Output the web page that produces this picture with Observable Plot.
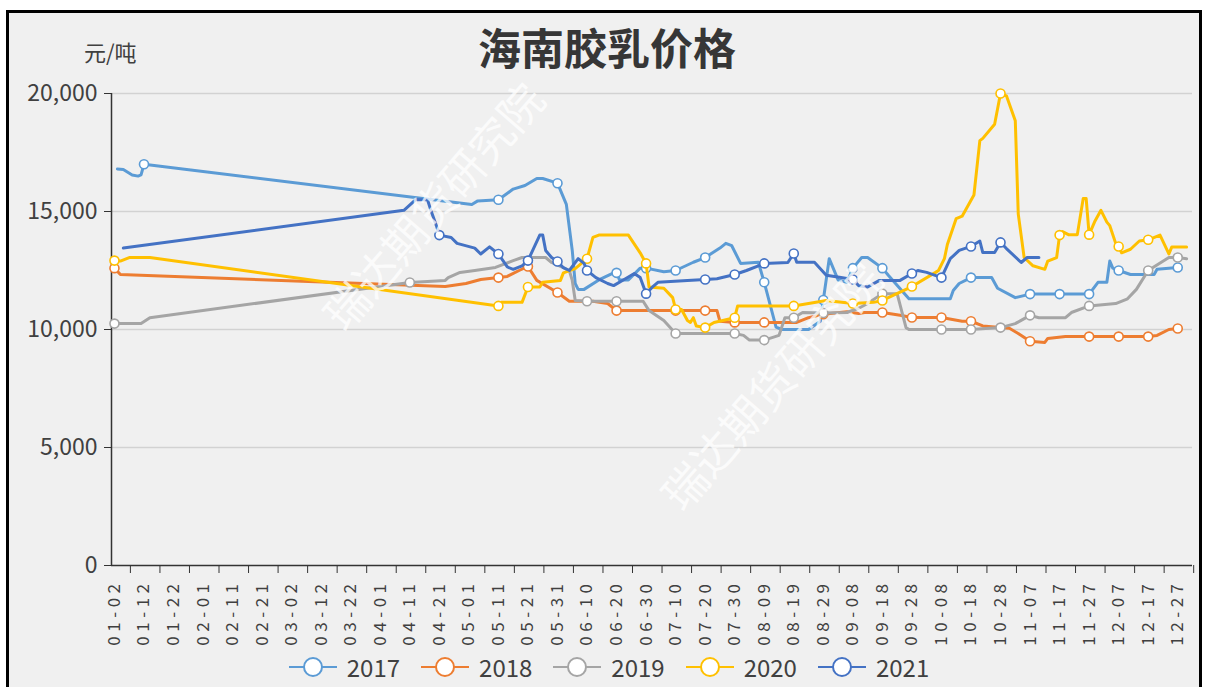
<!DOCTYPE html>
<html><head><meta charset="utf-8">
<script src="https://cdn.jsdelivr.net/npm/d3@7"></script>
<script src="https://cdn.jsdelivr.net/npm/@observablehq/plot@0.6"></script>
<style>
body{margin:0;background:#fff;font-family:"Noto Sans CJK SC","Noto Sans",sans-serif;width:1205px;height:687px;overflow:hidden;position:relative}
#frame{position:absolute;left:6px;top:10px;width:1190px;height:690px;border:3px solid #000;background:#f0f0f0}
#title{position:absolute;left:0;top:21px;width:1214px;text-align:center;font-size:43px;font-weight:bold;color:#363636;line-height:1.2}
#unit{position:absolute;left:84px;top:35px;font-size:22px;color:#404040}
#chart{position:absolute;left:0;top:0}
#legend{position:absolute;top:650px;left:0;width:1218px;display:flex;justify-content:center;gap:21px;font-size:24px;color:#404040;line-height:34px}
#legend .item{display:flex;align-items:center}
#legend svg{margin-right:10px}
.wm{position:absolute;color:rgba(255,255,255,0.75);font-size:44px;transform:rotate(-49deg);white-space:nowrap;width:308px;height:50px;line-height:50px;text-align:center}
</style></head>
<body>
<div id="frame"></div>
<div id="chart"></div>
<div id="title">海南胶乳价格</div>
<div id="unit">元/吨</div>
<div id="legend"></div>
<div class="wm" style="left:278px;top:180px">瑞达期货研究院</div>
<div class="wm" style="left:616px;top:360px">瑞达期货研究院</div>
<script>
const titleText = "海南胶乳价格";
const unitText = "元/吨";
const years = ["2017", "2018", "2019", "2020", "2021"];
const colors = ["#5b9bd5", "#ed7d31", "#a5a5a5", "#ffc000", "#4472c4"];
const yTicks = [0, 5000, 10000, 15000, 20000];
const xLabels = ["01-02","01-12","01-22","02-01","02-11","02-21","03-02","03-12","03-22","04-01","04-11","04-21","05-01","05-11","05-21","05-31","06-10","06-20","06-30","07-10","07-20","07-30","08-09","08-19","08-29","09-08","09-18","09-28","10-08","10-18","10-28","11-07","11-17","11-27","12-07","12-17","12-27"];

const s2017 = [["01-03",16800],["01-05",16780],["01-08",16550],["01-10",16500],["01-11",16550],["01-12",17000],
["05-02",15300],["05-04",15450],["05-11",15500],["05-16",15950],["05-20",16100],["05-24",16400],["05-26",16400],["05-31",16200],["06-03",15300],["06-05",13350],["06-06",11950],["06-07",11700],["06-09",11700],["06-14",12100],["06-19",12400],["06-20",12400],["06-21",12100],["06-24",12100],["06-28",12600],["06-30",12600],["07-06",12450],["07-10",12500],["07-16",12850],["07-20",13050],["07-25",13450],["07-27",13650],["07-29",13550],["08-01",12800],["08-07",12850],["08-09",12000],["08-13",10100],["08-15",10000],["08-24",10000],["08-28",10350],["08-29",11250],["08-31",13000],["09-03",12100],["09-06",12000],["09-08",12600],["09-11",13050],["09-13",13050],["09-18",12600],["09-20",12300],["09-27",11300],["10-11",11300],["10-12",11650],["10-14",11950],["10-18",12200],["10-25",12200],["10-27",11750],["11-02",11350],["11-07",11500],["11-17",11500],["11-27",11500],["11-30",12000],["12-03",12000],["12-04",12900],["12-05",12600],["12-07",12500],["12-11",12330],["12-19",12330],["12-20",12550],["12-27",12630]];

const s2018 = [["01-02",12600],["01-04",12330],["04-23",11820],["04-30",11950],["05-05",12120],["05-11",12200],["05-14",12250],["05-18",12500],["05-21",12670],["05-24",12080],["05-31",11570],["06-04",11200],["06-12",11200],["06-17",11100],["06-20",10800],["07-10",10800],["07-20",10800],["07-24",10800],["07-25",10350],["07-30",10300],["08-09",10300],["08-20",10300],["08-24",10500],["08-29",10650],["09-06",10750],["09-10",10680],["09-12",10720],["09-18",10720],["09-24",10600],["09-28",10510],["10-08",10510],["10-15",10350],["10-18",10350],["10-22",10150],["10-31",10050],["11-03",9830],["11-07",9500],["11-12",9450],["11-13",9620],["11-19",9700],["11-27",9700],["12-07",9700],["12-17",9700],["12-20",9750],["12-24",10000],["12-27",10040]];

const s2019 = [["01-02",10250],["01-11",10250],["01-14",10500],["04-11",11990],["04-23",12080],["04-24",12200],["04-28",12420],["05-03",12500],["05-10",12630],["05-16",12920],["05-19",13050],["05-27",13050],["05-29",12840],["06-04",12500],["06-05",12080],["06-06",11230],["06-10",11200],["06-20",11200],["06-29",11200],["07-01",10800],["07-06",10380],["07-10",9830],["07-30",9830],["08-02",9750],["08-04",9550],["08-09",9550],["08-14",9750],["08-16",10500],["08-19",10500],["08-22",10720],["08-29",10700],["09-06",10720],["09-10",10900],["09-13",11100],["09-18",11520],["09-23",11520],["09-26",10080],["09-27",10000],["10-08",10000],["10-18",10000],["10-28",10080],["11-02",10250],["11-07",10600],["11-10",10500],["11-19",10500],["11-21",10720],["11-27",11000],["12-06",11100],["12-10",11300],["12-13",11700],["12-17",12500],["12-24",13050],["12-27",13050],["12-30",13000]];

const s2020 = [["01-02",12920],["01-04",12900],["01-07",13050],["01-14",13050],["05-11",11000],["05-12",11150],["05-19",11150],["05-21",11800],["05-25",11800],["05-26",12000],["06-01",12080],["06-02",12400],["06-06",12580],["06-10",13000],["06-12",13900],["06-14",14000],["06-24",14000],["06-28",13250],["06-30",12800],["07-01",11800],["07-06",11750],["07-09",11350],["07-10",10850],["07-12",10850],["07-14",10380],["07-15",10300],["07-16",10500],["07-17",10150],["07-20",10080],["07-23",10300],["07-30",10500],["07-31",11000],["08-19",11000],["08-24",11100],["08-30",11230],["09-08",11100],["09-15",11150],["09-18",11230],["09-20",11350],["09-28",11820],["10-06",12420],["10-07",12500],["10-09",13000],["10-10",13600],["10-13",14700],["10-15",14800],["10-19",15700],["10-21",18000],["10-22",18100],["10-26",18700],["10-28",20000],["10-30",19900],["11-02",18850],["11-03",14900],["11-05",13050],["11-08",12700],["11-12",12550],["11-13",12900],["11-16",13050],["11-17",14000],["11-18",14150],["11-20",14020],["11-23",14020],["11-25",15550],["11-26",15550],["11-27",14020],["11-29",14600],["12-01",15050],["12-03",14550],["12-04",14400],["12-06",13650],["12-07",13520],["12-08",13250],["12-11",13400],["12-14",13750],["12-17",13800],["12-21",14000],["12-24",13200],["12-25",13500],["12-30",13500]];

const s2021 = [["01-05",13450],["04-09",15050],["04-13",15500],["04-17",15500],["04-18",15100],["04-20",14400],["04-21",14000],["04-25",13900],["04-27",13650],["05-03",13450],["05-05",13200],["05-08",13500],["05-11",13200],["05-14",12650],["05-16",12550],["05-19",12700],["05-21",12920],["05-25",14000],["05-26",14000],["05-27",13350],["05-29",13050],["05-31",12880],["06-02",12620],["06-04",12500],["06-07",13000],["06-09",12800],["06-10",12500],["06-13",12200],["06-17",11950],["06-19",11860],["06-23",12150],["06-26",12370],["06-28",12200],["06-30",11520],["07-02",11780],["07-04",12000],["07-14",12080],["07-20",12120],["07-24",12150],["07-30",12330],["08-03",12500],["08-07",12700],["08-09",12800],["08-17",12840],["08-19",13220],["08-20",12850],["08-26",12850],["08-30",12300],["09-04",12200],["09-08",12120],["09-10",11850],["09-13",11800],["09-17",12080],["09-24",12080],["09-28",12370],["09-30",12500],["10-03",12420],["10-08",12200],["10-11",13000],["10-14",13350],["10-18",13520],["10-21",13750],["10-22",13260],["10-26",13260],["10-28",13690],["10-30",13430],["11-04",12840],["11-06",13050],["11-10",13050]];

const seriesList = [s2017, s2018, s2019, s2020, s2021];

const toDate = (md) => { const [m, d] = md.split("-").map(Number); return new Date(Date.UTC(2020, m - 1, d)); };
const labelDates = xLabels.map(toDate);
const labelSet = new Set(xLabels);
const dayMs = 86400000;
const tickMarkDates = labelDates.map(d => new Date(+d + 5.4 * dayMs));

const marks = [
  Plot.ruleY(yTicks.filter(v => v > 0), {stroke: "#d2d2d2", strokeWidth: 1.5}),
  Plot.axisY({ticks: yTicks, tickFormat: d3.format(","), tickSize: 7, tickPadding: 7, fontSize: 23, label: null, stroke: "#333"}),
  Plot.axisX({ticks: tickMarkDates, tickSize: 8, tickFormat: () => "", label: null, stroke: "#333"}),
  Plot.axisX({ticks: labelDates, tickSize: 0, tickPadding: 14, tickRotate: -90, tickFormat: d3.utcFormat("%m-%d"), fontSize: 17, label: null}),
  Plot.ruleX([new Date(Date.UTC(2020, 0, 1))], {stroke: "#333", strokeWidth: 1.5}),
  Plot.ruleY([0], {stroke: "#333", strokeWidth: 1.5})
];

seriesList.forEach((s, i) => {
  const rows = s.map(([md, v]) => ({date: toDate(md), value: v, md}));
  marks.push(Plot.line(rows, {x: "date", y: "value", stroke: colors[i], strokeWidth: 3, strokeLinejoin: "round", curve: "linear"}));
  marks.push(Plot.dot(rows.filter(r => labelSet.has(r.md)), {x: "date", y: "value", r: 4.5, fill: "white", stroke: colors[i], strokeWidth: 1.6}));
});

const chart = Plot.plot({
  width: 1205, height: 660,
  marginLeft: 111, marginRight: 13, marginTop: 93, marginBottom: 95,
  x: {type: "utc", domain: [new Date(Date.UTC(2020, 0, 1)), new Date(Date.UTC(2021, 0, 1))]},
  y: {domain: [0, 20000]},
  style: {background: "transparent", color: "#404040", fontFamily: "'Noto Sans CJK SC','Noto Sans',sans-serif", overflow: "visible"},
  marks
});
document.getElementById("chart").appendChild(chart);
d3.select(chart).selectAll("g[aria-label='x-axis tick label'] text").style("letter-spacing", "4.5px");

document.getElementById("title").textContent = titleText;
document.getElementById("unit").textContent = unitText;
const legend = d3.select("#legend");
years.forEach((y, i) => {
  const item = legend.append("div").attr("class", "item");
  const sv = item.append("svg").attr("width", 48).attr("height", 24);
  sv.append("line").attr("x1", 0).attr("x2", 48).attr("y1", 12).attr("y2", 12).attr("stroke", colors[i]).attr("stroke-width", 2);
  sv.append("circle").attr("cx", 24).attr("cy", 12).attr("r", 9).attr("fill", "white").attr("stroke", colors[i]).attr("stroke-width", 2);
  item.append("span").text(y);
});
</script>
</body></html>
